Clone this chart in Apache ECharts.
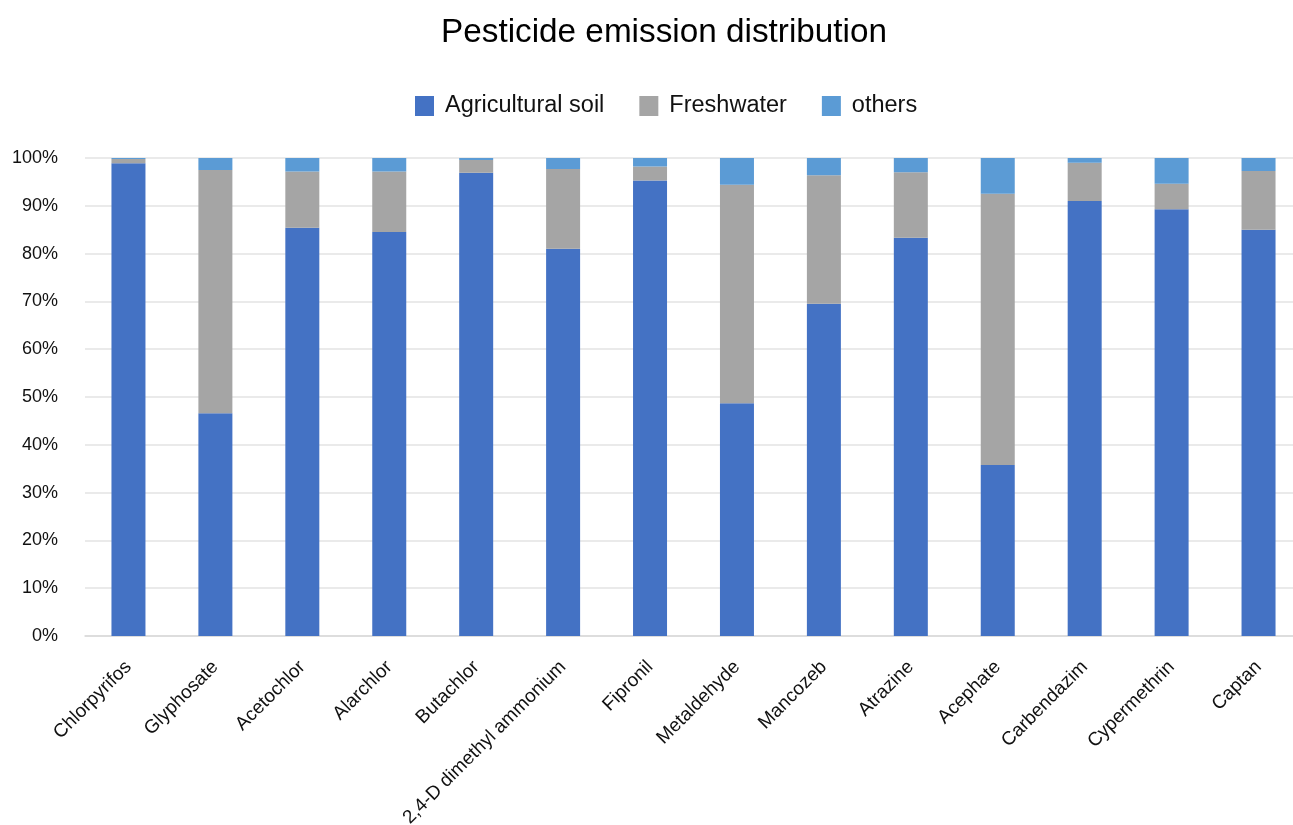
<!DOCTYPE html>
<html>
<head>
    <meta charset="UTF-8" />
    <title>Pesticide emission distribution</title>
    <script src="https://cdn.jsdelivr.net/npm/echarts@6/dist/echarts.min.js"></script>
    <style>
        html, body { margin: 0; padding: 0; background: #fff; }
        #chart { width: 1293px; height: 825px; }
    </style>
</head>
<body>
    <div id="chart"></div>
    <script type="text/javascript">
        const categories = ['Chlorpyrifos', 'Glyphosate', 'Acetochlor', 'Alarchlor', 'Butachlor',
            '2,4-D dimethyl ammonium', 'Fipronil', 'Metaldehyde', 'Mancozeb', 'Atrazine',
            'Acephate', 'Carbendazim', 'Cypermethrin', 'Captan'];
        // shares in percent
        const agriculturalSoil = [98.9, 46.6, 85.4, 84.5, 96.9, 81.0, 95.3, 48.7, 69.5, 83.3, 35.8, 91.0, 89.3, 85.0];
        const freshwater = [0.9, 50.9, 11.8, 12.7, 2.7, 16.7, 2.9, 45.7, 26.9, 13.7, 56.7, 8.0, 5.3, 12.3];
        const others = [0.2, 2.5, 2.8, 2.8, 0.4, 2.3, 1.8, 5.6, 3.6, 3.0, 7.5, 1.0, 5.4, 2.7];

        const font = 'Liberation Sans, Arial, sans-serif';
        let chart = echarts.init(document.getElementById('chart'));

        let makeSeries = (name, data, color) => ({
            name: name,
            type: 'bar',
            stack: 'total',
            barWidth: 34,
            data: data,
            itemStyle: { color: color },
            emphasis: { disabled: true }
        });

        chart.setOption({
            animation: false,
            textStyle: { fontFamily: font },
            title: {
                text: 'Pesticide emission distribution',
                left: 436,
                top: 11,
                textStyle: { fontFamily: font, fontSize: 33.3, fontWeight: 'normal', color: '#000' }
            },
            legend: {
                top: 89,
                left: 410,
                itemWidth: 19,
                itemHeight: 20,
                itemGap: 35,
                icon: 'rect',
                textStyle: { fontFamily: font, fontSize: 23.5, color: '#111', padding: [0, 0, 0, 6] },
                data: ['Agricultural soil', 'Freshwater', 'others']
            },
            grid: { left: 85, right: -9, top: 158, bottom: 189, containLabel: false, outerBoundsMode: 'none' },
            xAxis: {
                type: 'category',
                data: categories,
                axisTick: { show: false },
                axisLine: { lineStyle: { color: '#d9d9d9', width: 1.5 } },
                axisLabel: {
                    rotate: 45,
                    interval: 0,
                    margin: 28,
                    fontSize: 19,
                    color: '#111',
                    fontFamily: font
                }
            },
            yAxis: {
                type: 'value',
                min: 0,
                max: 100,
                interval: 10,
                axisLine: { show: false },
                axisTick: { show: false },
                splitLine: { lineStyle: { color: '#e3e3e3', width: 1.5 } },
                axisLabel: {
                    formatter: '{value}%',
                    fontSize: 18,
                    color: '#111',
                    margin: 27,
                    fontFamily: font
                }
            },
            series: [
                makeSeries('Agricultural soil', agriculturalSoil, '#4472C4'),
                makeSeries('Freshwater', freshwater, '#A5A5A5'),
                makeSeries('others', others, '#5B9BD5')
            ]
        });
    </script>
</body>
</html>
